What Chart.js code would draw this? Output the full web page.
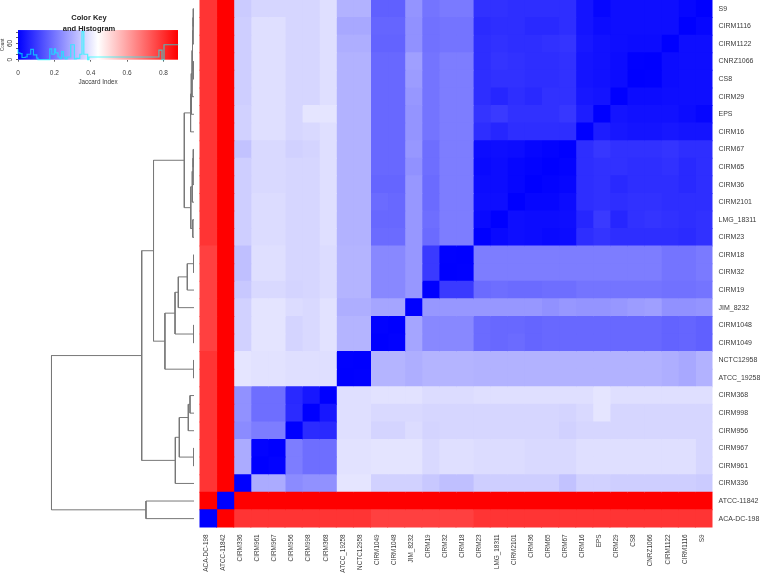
<!DOCTYPE html>
<html><head><meta charset="utf-8">
<script src="https://cdn.jsdelivr.net/npm/chart.js@4"></script>
<style>
html,body{margin:0;padding:0;background:#fff;width:760px;height:573px;overflow:hidden}
canvas{position:absolute;left:0;top:0}
#wrapMain,#wrapDendro,#wrapKey{position:absolute;left:0;top:0}
#wrapMain{width:760px;height:573px}
#wrapDendro{width:199px;height:573px}
#wrapKey{width:182px;height:86px}
</style></head><body>
<div id="wrapMain"><canvas id="main"></canvas></div>
<div id="wrapDendro"><canvas id="dendro"></canvas></div>
<div id="wrapKey"><canvas id="key"></canvas></div>
<script>
// Strains, bottom row / left column first
const strains = ["ACA-DC-198","ATCC-11842","CIRM336","CIRM961","CIRM967","CIRM956","CIRM998","CIRM368","ATCC_19258","NCTC12958","CIRM1049","CIRM1048","JIM_8232","CIRM19","CIRM32","CIRM18","CIRM23","LMG_18311","CIRM2101","CIRM36","CIRM65","CIRM67","CIRM16","EPS","CIRM29","CS8","CNRZ1066","CIRM1122","CIRM1116","S9"];

// Jaccard index, lower triangle of the symmetric table
const r00=[0];
const r01=[.88,0];
const r02=[.79,.88,0];
const r03=[.79,.88,.295,0];
const r04=[.79,.88,.295,.005,0];
const r05=[.79,.88,.24,.215,.215,0];
const r06=[.79,.88,.25,.19,.19,.075,0];
const r07=[.79,.88,.25,.19,.19,.07,.04,0];
const r08=[.79,.88,.395,.39,.39,.385,.385,.385,0];
const r09=[.79,.88,.395,.39,.39,.385,.385,.385,.002,0];
const r10=[.77,.88,.36,.393,.393,.365,.375,.39,.31,.31,0];
const r11=[.77,.88,.36,.393,.393,.365,.375,.39,.31,.31,.003,0];
const r12=[.77,.88,.36,.393,.393,.38,.375,.39,.3,.3,.285,.285,0];
const r13=[.77,.88,.345,.375,.375,.365,.37,.38,.31,.31,.235,.235,.26,0];
const r14=[.77,.88,.33,.385,.385,.37,.37,.38,.31,.31,.235,.235,.26,.1,0];
const r15=[.77,.88,.33,.385,.385,.37,.37,.38,.31,.31,.235,.235,.26,.1,.002,0];
const r16=[.79,.88,.355,.38,.38,.37,.37,.385,.307,.307,.185,.185,.26,.185,.215,.215,0];
const r17=[.79,.88,.355,.38,.38,.37,.37,.385,.307,.307,.18,.18,.26,.19,.215,.215,.015,0];
const r18=[.79,.88,.355,.38,.38,.37,.37,.385,.307,.307,.185,.18,.26,.185,.215,.215,.025,.025,0];
const r19=[.79,.88,.355,.375,.375,.37,.37,.385,.307,.307,.175,.175,.26,.185,.215,.215,.02,.02,.01,0];
const r20=[.79,.88,.355,.375,.375,.37,.37,.385,.307,.307,.18,.18,.25,.19,.215,.215,.015,.02,.01,.005,0];
const r21=[.79,.88,.335,.375,.375,.36,.365,.385,.307,.307,.18,.18,.26,.19,.215,.215,.02,.025,.02,.01,.005,0];
const r22=[.79,.88,.36,.385,.385,.37,.375,.385,.307,.307,.18,.18,.255,.2,.215,.215,.08,.065,.08,.08,.08,.08,0];
const r23=[.79,.88,.36,.385,.385,.37,.395,.395,.307,.307,.18,.18,.255,.2,.215,.215,.09,.1,.085,.085,.085,.095,.05,0];
const r24=[.79,.88,.355,.385,.385,.37,.37,.385,.307,.307,.18,.18,.26,.2,.215,.215,.08,.065,.08,.07,.085,.085,.04,.035,0];
const r25=[.79,.88,.355,.385,.385,.37,.37,.385,.307,.307,.18,.18,.27,.2,.215,.215,.08,.085,.085,.08,.08,.085,.035,.03,.02,0];
const r26=[.79,.88,.355,.385,.385,.37,.37,.385,.307,.307,.18,.18,.275,.2,.215,.215,.08,.09,.085,.08,.08,.085,.035,.03,.02,.002,0];
const r27=[.79,.88,.355,.385,.385,.37,.37,.385,.3,.3,.17,.17,.25,.195,.2,.2,.08,.085,.08,.08,.085,.09,.04,.03,.025,.02,.02,0];
const r28=[.79,.88,.355,.385,.385,.37,.37,.385,.29,.29,.175,.175,.25,.195,.2,.2,.075,.08,.08,.07,.07,.08,.035,.02,.025,.025,.025,.025,0];
const r29=[.79,.88,.35,.37,.37,.37,.37,.385,.307,.307,.165,.165,.255,.2,.21,.21,.085,.085,.08,.08,.08,.08,.035,.01,.025,.025,.025,.025,.01,0];
const lowerTriangle=[r00,r01,r02,r03,r04,r05,r06,r07,r08,r09,r10,r11,r12,r13,r14,r15,r16,r17,r18,r19,r20,r21,r22,r23,r24,r25,r26,r27,r28,r29];

// Dendrogram merges: [height, child a, child b]; a number below 30 is a leaf, "m<k>" is merge k
const merges=[
 [.005,29,28],[.007,"m0",27],[.0035,26,25],[.0105,"m1","m2"],[.014,"m3",24],[.019,"m4",23],[.024,"m5",22],
 [.005,21,20],[.007,"m7",19],[.012,"m8",18],[.0085,17,16],[.0225,"m9","m10"],[.068,"m6","m11"],
 [.0035,15,14],[.047,"m13",13],[.11,"m14",12],[.0035,11,10],[.133,"m15","m16"],[.0035,9,8],[.204,"m17","m18"],
 [.284,"m12","m19"],
 [.028,7,6],[.04,"m21",5],[.0035,4,3],[.103,"m22","m23"],[.131,"m24",2],[.367,"m20","m25"],
 [.337,1,0],[1,"m26","m27"]
];
const dendroMaxHeight=1.3614;

// Histogram of the colour key
const histEdges=[0,.011,.022,.04,.05,.07,.085,.103,.11,.12,.175,.186,.2,.207,.22,.23,.24,.25,.26,.27,.29,.31,.32,.34,.352,.362,.383,.39,.775,.792,.803,.871,.882];
const histCounts=[38,25,22,8,10,20,38,18,6,0,0,40,20,40,25,10,5,30,10,3,10,55,3,5,20,103,20,0,10,35,0,55,55];
const keyTicksX=[0,.2,.4,.6,.8];
const keyTicksY=[0,20,40,60,80,100];
const keyLabelledY=[0,60];
const keyMin=0,keyMid=.44,keyMax=.88;

function colourOf(v){
  if(v<keyMid){const c=Math.round(255*(v-keyMin)/(keyMid-keyMin));return `rgb(${c},${c},255)`;}
  const c=Math.round(255*(1-(v-keyMid)/(keyMax-keyMid)));return `rgb(255,${c},${c})`;
}
function jaccard(i,j){return i>=j?lowerTriangle[i][j]:lowerTriangle[j][i];}

const labelFont={family:'"Liberation Sans",Arial,sans-serif',size:7};
const labelColour='#3a3a3a';
const common={responsive:false,animation:false,devicePixelRatio:1,plugins:{legend:{display:false},tooltip:{enabled:false}}};
function size(id,w,h){const c=document.getElementById(id);c.width=w;c.height=h;c.style.width=w+'px';c.style.height=h+'px';return c;}
function noOverflow(a){a.paddingTop=0;a.paddingBottom=0;a.paddingLeft=0;a.paddingRight=0;}

// Heat map
const topDown=strains.slice().reverse();
const cellSets=strains.map((_,col)=>({
  data:topDown.map(name=>({x:[col,col+1],y:name,v:jaccard(strains.indexOf(name),col)})),
  backgroundColor:topDown.map(name=>colourOf(jaccard(strains.indexOf(name),col))),
  borderWidth:0,inflateAmount:.5,barPercentage:1,categoryPercentage:1,grouped:false
}));
new Chart(size('main',760,573),{
  type:'bar',
  data:{labels:topDown,datasets:cellSets},
  options:Object.assign({},common,{
    indexAxis:'y',
    layout:{padding:{left:199.5,top:0,right:0,bottom:0}},
    scales:{
      x:{type:'linear',min:0,max:strains.length,position:'bottom',
         afterBuildTicks:a=>{a.ticks=strains.map((_,i)=>({value:i+.5}));},
         afterFit:a=>{a.height=45.6;noOverflow(a);},
         grid:{display:false,drawTicks:false},border:{display:false},
         ticks:{autoSkip:false,minRotation:90,maxRotation:90,padding:7,labelOffset:-2,font:{family:labelFont.family,size:6.4},color:labelColour,
                callback:v=>strains[Math.round(v-.5)]}},
      y:{type:'category',position:'right',
         afterFit:a=>{a.width=47.5;noOverflow(a);},
         grid:{display:false,drawTicks:false},border:{display:false},
         ticks:{autoSkip:false,padding:6,font:labelFont,color:labelColour}}
    }
  })
});

// Dendrogram
const placed=strains.map((_,i)=>({h:0,y:i+.5}));
const mergeNodes=[];
const nodeOf=c=>typeof c==='number'?placed[c]:mergeNodes[+c.slice(1)];
const dendroPoints=[];
merges.forEach(([h,a,b])=>{
  const A=nodeOf(a),B=nodeOf(b);
  dendroPoints.push({x:A.h,y:A.y},{x:h,y:A.y},{x:h,y:B.y},{x:B.h,y:B.y},{x:null,y:null});
  mergeNodes.push({h,y:(A.y+B.y)/2});
});
new Chart(size('dendro',199,573),{
  type:'scatter',
  data:{datasets:[{data:dendroPoints,showLine:true,pointRadius:0,borderColor:'#787878',borderWidth:1,spanGaps:false,clip:false,tension:0}]},
  options:Object.assign({},common,{
    layout:{padding:{left:0,top:0,right:5,bottom:45.6}},
    scales:{
      x:{type:'linear',display:false,reverse:true,min:0,max:dendroMaxHeight},
      y:{type:'linear',display:false,min:0,max:strains.length}
    }
  })
});

// Colour key and histogram
const keyBackground={id:'keyBackground',beforeDraw(ch){
  const {ctx,chartArea:a,scales:{x}}=ch;
  const g=ctx.createLinearGradient(x.getPixelForValue(keyMin),0,x.getPixelForValue(keyMax),0);
  g.addColorStop(0,colourOf(keyMin));g.addColorStop((keyMid-keyMin)/(keyMax-keyMin),'#ffffff');g.addColorStop(1,colourOf(keyMax));
  ctx.save();ctx.fillStyle=g;ctx.fillRect(a.left,a.top,a.right-a.left,a.bottom-a.top);ctx.restore();
}};
new Chart(size('key',182,86),{
  type:'scatter',
  plugins:[keyBackground],
  data:{datasets:[{data:histEdges.map((e,i)=>({x:e,y:histCounts[i]})),showLine:true,stepped:'after',pointRadius:0,borderColor:'rgba(0,255,255,.65)',borderWidth:1.2,clip:false}]},
  options:Object.assign({},common,{
    layout:{padding:{left:0,top:0,right:4,bottom:0}},
    plugins:{legend:{display:false},tooltip:{enabled:false},
      title:{display:true,text:['Color Key','and Histogram'],color:'#222',align:'center',
             font:{family:labelFont.family,size:7.5,weight:'bold',lineHeight:1.47},padding:{top:12,bottom:-4}}},
    scales:{
      x:{type:'linear',min:keyMin,max:keyMax,position:'bottom',
         afterBuildTicks:a=>{a.ticks=keyTicksX.map(value=>({value}));},
         afterFit:a=>{a.height=26.3;noOverflow(a);},
         grid:{drawOnChartArea:false,drawTicks:true,tickLength:2,color:'#666'},border:{display:false},
         ticks:{font:{family:labelFont.family,size:6.5},color:labelColour,padding:8,maxRotation:0,callback:v=>String(+v.toFixed(1))},
         title:{display:true,text:'Jaccard Index',color:labelColour,font:{family:labelFont.family,size:6.3},padding:{top:2,bottom:0}}},
      y:{type:'linear',min:0,max:109,position:'left',
         afterBuildTicks:a=>{a.ticks=keyTicksY.map(value=>({value}));},
         afterFit:a=>{a.width=18;noOverflow(a);},
         grid:{drawOnChartArea:false,drawTicks:true,tickLength:2,color:'#666'},border:{display:false},
         ticks:{minRotation:90,maxRotation:90,crossAlign:'center',autoSkip:false,padding:2,font:{family:labelFont.family,size:6.5},color:labelColour,
                callback:v=>keyLabelledY.includes(v)?String(v):''},
         title:{display:true,text:'Count',color:labelColour,font:{family:labelFont.family,size:4.5},padding:{top:0,bottom:0}}}
    }
  })
});
</script>
</body></html>
